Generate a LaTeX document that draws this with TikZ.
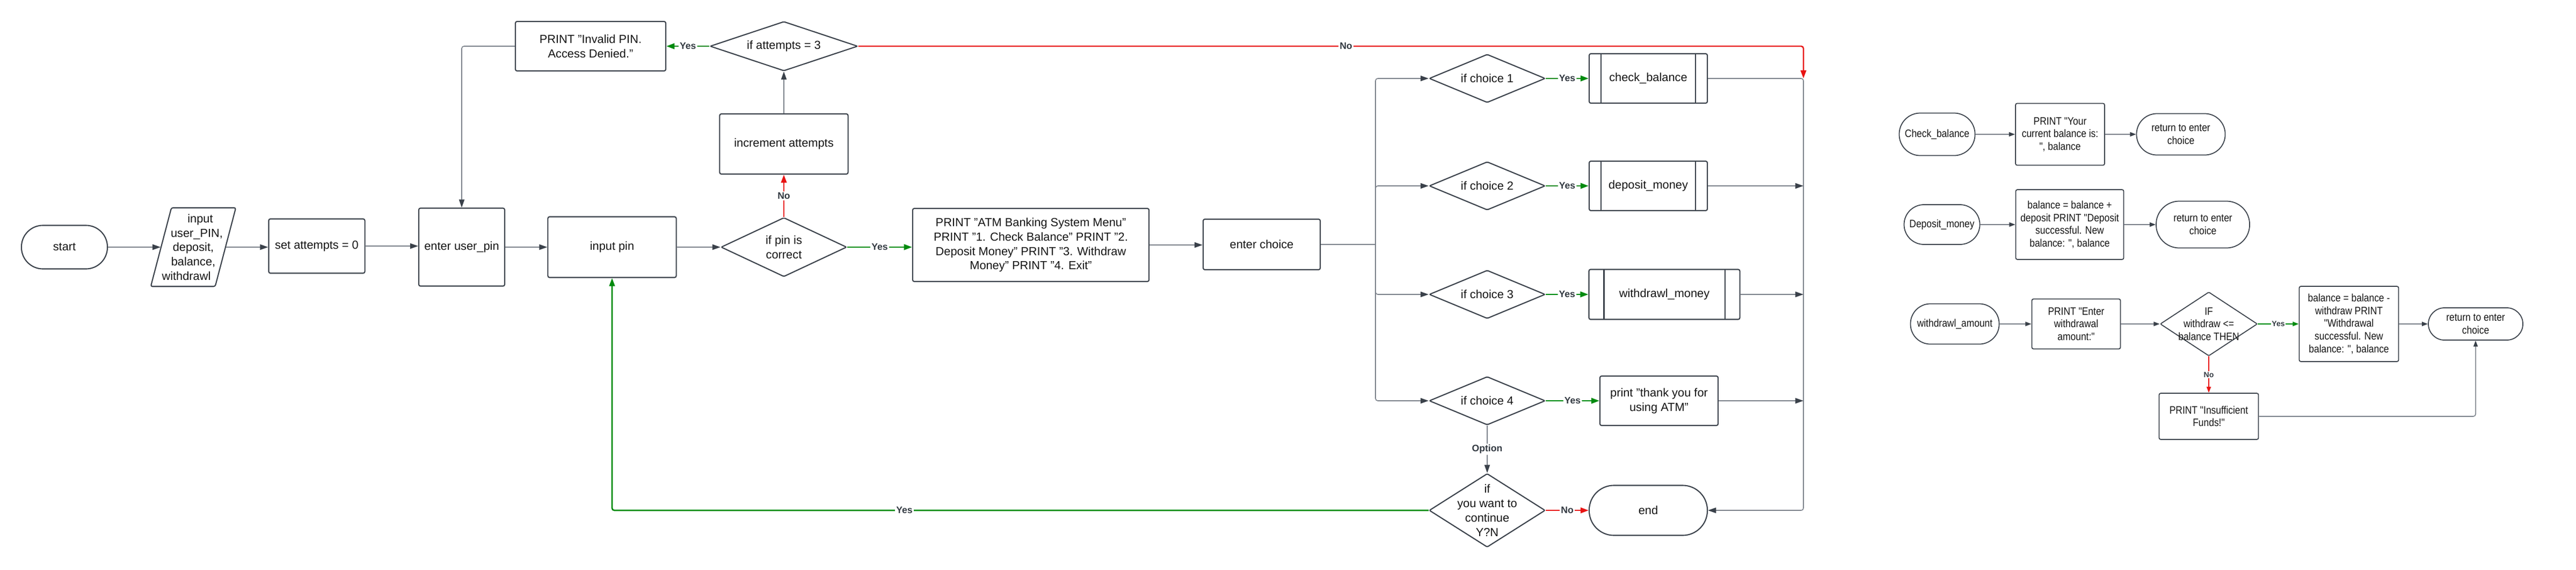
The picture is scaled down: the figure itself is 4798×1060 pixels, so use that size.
\documentclass[tikz,border=0pt]{standalone}
\usepackage{fontspec}
\setmainfont{Liberation Sans}
\newfontfamily\rsfont{Liberation Sans}[FakeStretch=0.87]
\usetikzlibrary{shapes.geometric,arrows.meta,calc}
\definecolor{bord}{HTML}{3A414A}
\definecolor{lnk}{HTML}{7A8089}
\definecolor{grn}{HTML}{008A0E}
\definecolor{rd}{HTML}{E81313}
\definecolor{txt}{HTML}{151515}
\definecolor{labc}{HTML}{333A42}
\newcommand{\fmain}{\fontsize{6.2}{7.6}\selectfont}
\newcommand{\fsmallr}{\rsfont\fontsize{5.7}{6.7}\selectfont}
\newcommand{\flab}{\fontsize{5}{6}\selectfont\bfseries}
\newcommand{\flabs}{\fontsize{4}{4.8}\selectfont\bfseries}
\tikzset{
  sz/.style 2 args={minimum width=#1cm, minimum height=#2cm},
  shp/.style={draw=bord, line width=0.6pt, fill=white, text=txt, align=center, inner sep=0pt, font=\fmain},
  proc/.style={shp, rectangle, rounded corners=0.9pt},
  term/.style={shp, rectangle, rounded corners=#1},
  dec/.style={shp, diamond, rounded corners=0.6pt},
  subp/.style={proc, path picture={\draw[draw=bord, line width=0.6pt]
      ([xshift=#1]path picture bounding box.north west) -- ([xshift=#1]path picture bounding box.south west)
      ([xshift=-#1]path picture bounding box.north east) -- ([xshift=-#1]path picture bounding box.south east);}},
  rs/.style={font=\fsmallr, line width=0.5pt},
  every label/.style={font=\fmain, text=txt, align=center, inner sep=0pt},
  ln/.style={draw=lnk, line width=0.45pt, rounded corners=1.2pt},
  arr/.style={ln, -{Triangle[length=4.3pt,width=2.9pt,color=bord]}},
  garr/.style={draw=grn, line width=0.75pt, rounded corners=1.2pt, -{Triangle[length=4.3pt,width=3pt]}},
  rarr/.style={draw=rd, line width=0.7pt, rounded corners=1.2pt, -{Triangle[length=4.3pt,width=3pt]}},
  sarr/.style={ln, -{Triangle[length=3.2pt,width=2.3pt,color=bord]}},
  sgarr/.style={draw=grn, line width=0.6pt, -{Triangle[length=3.2pt,width=2.3pt]}},
  srarr/.style={draw=rd, line width=0.5pt, -{Triangle[length=3.2pt,width=2.3pt]}},
  lbl/.style={fill=white, font=\flab, text=labc, inner sep=0.6pt},
  slbl/.style={fill=white, font=\flabs, text=labc, inner sep=0.5pt},
}
\begin{document}
\begin{tikzpicture}[x=0.01cm,y=-0.01cm]
\useasboundingbox (0,0) rectangle (4798,1060);
% ---------- main flow ----------
\node[term=0.40cm, sz={1.6}{0.81}] (start) at (120,460) {start};
\node[inner sep=0pt, sz={1.57}{1.45},
      label={center:{\hspace*{0.26cm}input\\\hspace*{0.13cm}user\_PIN,\\deposit,\\balance,\hspace*{0.13cm}\\withdrawl\hspace*{0.26cm}}}] (inp) at (360,460) {};
\draw[draw=bord, line width=0.6pt, rounded corners=0.9pt]
  (inp.south west) -- ++(120,0) -- (inp.north east) -- ++(-120,0) -- cycle;
\coordinate (inpL) at ($(inp.west)+(18.5,0)$);
\coordinate (inpR) at ($(inp.east)-(18.5,0)$);
\node[proc, sz={1.79}{1.01}] (sa) at (590,458) {set attempts = 0};
\node[proc, sz={1.6}{1.45}] (eup) at (860,460) {enter user\_pin};
\node[proc, sz={2.39}{1.13}] (pin) at (1140,460) {input pin};
\node[dec, sz={2.34}{1.10}, label={center:{if pin is\\correct}}] (pdec) at (1460,460) {};
\node[proc, sz={2.39}{1.12}] (inc) at (1460,268) {increment attempts};
\node[dec, sz={2.75}{0.92}, label={center:{if attempts = 3}}] (att) at (1460,86) {};
\node[proc, sz={2.80}{0.92}] (inv) at (1100,86) {PRINT "Invalid PIN.\\Access Denied."};
\node[proc, sz={4.40}{1.36}] (atm) at (1920,456) {PRINT "ATM Banking System Menu"\\PRINT "1. Check Balance" PRINT "2.\\Deposit Money" PRINT "3. Withdraw\\Money" PRINT "4. Exit"};
\node[proc, sz={2.18}{0.94}] (ec) at (2350,455) {enter choice};
\node[dec, sz={2.16}{0.90}, label={center:{if choice 1}}] (c1) at (2770,146) {};
\node[dec, sz={2.16}{0.90}, label={center:{if choice 2}}] (c2) at (2770,346) {};
\node[dec, sz={2.16}{0.90}, label={center:{if choice 3}}] (c3) at (2770,548) {};
\node[dec, sz={2.16}{0.90}, label={center:{if choice 4}}] (c4) at (2770,746) {};
\node[subp=0.22cm, sz={2.20}{0.92}] (cb) at (3070,146) {check\_balance};
\node[subp=0.22cm, sz={2.20}{0.92}] (dm) at (3070,346) {deposit\_money};
\node[subp=0.28cm, sz={2.81}{0.93}] (wm) at (3100,548) {withdrawl\_money};
\node[proc, sz={2.20}{0.92}] (ty) at (3090,746) {print "thank you for\\using ATM"};
\node[dec, sz={2.16}{1.37}, label={center:{if\\you want to\\continue\\Y?N}}] (cont) at (2770,950) {};
\node[term=0.46cm, sz={2.20}{0.93}] (end) at (3070,950) {end};
\coordinate (tr) at (2562,455);
\coordinate (colTop) at (3359,146);

\draw[arr] (start.east) -- (inpL);
\draw[arr] (inpR) -- (inpR -| sa.west);
\draw[arr] (sa.east) -- (sa.east -| eup.west);
\draw[arr] (eup) -- (pin);
\draw[arr] (pin) -- (pdec);
\draw[garr] (pdec.east) -- node[lbl]{Yes} (pdec.east -| atm.west);
\draw[rarr] (pdec) -- node[lbl]{No} (inc);
\draw[arr] (inc) -- (att);
\draw[garr] (att) -- node[lbl]{Yes} (inv);
\draw[arr] (inv.west) -| (eup.north);
\draw[arr] (atm.east) -- (atm.east -| ec.west);
\draw[ln] (ec.east) -- (tr);
\foreach \c in {c1,c2,c3,c4} \draw[arr] (tr) |- (\c.west);
\draw[garr] (c1) -- node[lbl]{Yes} (cb);
\draw[garr] (c2) -- node[lbl]{Yes} (dm);
\draw[garr] (c3) -- node[lbl]{Yes} (wm);
\draw[garr] (c4) -- node[lbl]{Yes} (ty);
\draw[arr] (c4) -- node[lbl]{Option} (cont);
\draw[rarr] (cont) -- node[lbl]{No} (end);
\draw[garr] (cont.west) -| node[lbl, pos=0.321]{Yes} (pin.south);
\draw[rarr] (att.east) -| node[lbl, pos=0.258]{No} (colTop);
\draw[arr] (cb.east) -- (colTop) |- (end.east);
\draw[arr] (dm.east) -- (dm.east -| colTop);
\draw[arr] (wm.east) -- (wm.east -| colTop);
\draw[arr] (ty.east) -- (ty.east -| colTop);

% ---------- right-side sub-flows ----------
\node[term=0.39cm, sz={1.41}{0.79}, rs] (rcb) at (3608,250) {Check\_balance};
\node[proc, sz={1.66}{1.15}, rs] (rp1) at (3837,250) {PRINT "Your\\current balance is:\\", balance};
\node[term=0.38cm, sz={1.65}{0.77}, rs] (rr1) at (4062,250) {return to enter\\choice};
\node[term=0.37cm, sz={1.41}{0.74}, rs] (rdep) at (3617,418) {Deposit\_money};
\node[proc, sz={2.01}{1.30}, rs] (rp2) at (3855,418) {balance = balance +\\deposit PRINT "Deposit\\successful. New\\balance: ", balance};
\node[term=0.43cm, sz={1.74}{0.87}, rs] (rr2) at (4103,418) {return to enter\\choice};
\node[term=0.37cm, sz={1.65}{0.75}, rs] (rwa) at (3641,603) {withdrawl\_amount};
\node[proc, sz={1.65}{0.93}, rs] (rpw) at (3867,603) {PRINT "Enter\\withdrawal\\amount:"};
\node[dec, sz={1.81}{1.19}, rs, label={[font=\fsmallr]center:{IF\\withdraw <=\\balance THEN}}] (rif) at (4114,603) {};
\node[proc, sz={1.85}{1.40}, rs] (rbal) at (4375,603) {balance = balance -\\withdraw PRINT\\"Withdrawal\\successful. New\\balance: ", balance};
\node[term=0.30cm, sz={1.76}{0.60}, rs] (rr3) at (4611,603) {return to enter\\choice};
\node[proc, sz={1.85}{0.86}, rs] (rins) at (4114,775) {PRINT "Insufficient\\Funds!"};
\draw[sarr] (rcb) -- (rp1);
\draw[sarr] (rp1) -- (rr1);
\draw[sarr] (rdep) -- (rp2);
\draw[sarr] (rp2) -- (rr2);
\draw[sarr] (rwa) -- (rpw);
\draw[sarr] (rpw) -- (rif);
\draw[sgarr] (rif) -- node[slbl]{Yes} (rbal);
\draw[srarr] (rif) -- node[slbl]{No} (rins);
\draw[sarr] (rbal) -- (rr3);
\draw[sarr] (rins.east) -| (rr3.south);
\end{tikzpicture}
\end{document}
